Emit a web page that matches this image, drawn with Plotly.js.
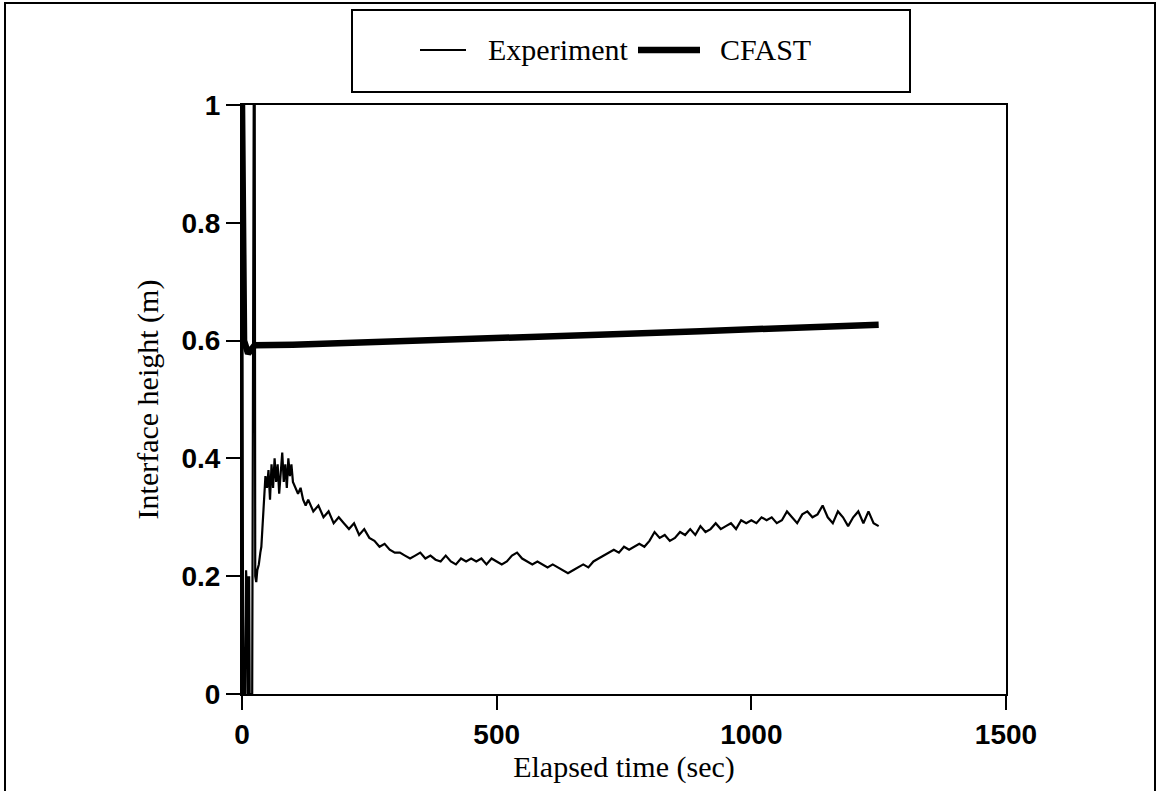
<!DOCTYPE html>
<html>
<head>
<meta charset="utf-8">
<script src="https://cdn.plot.ly/plotly-3.0.1.min.js"></script>
<style>html,body{margin:0;padding:0;background:#fff;}#chart{width:1159px;height:791px;}</style>
</head>
<body>
<div id="chart"></div>
<script>
// Experiment (thin line): elapsed time (s) and interface height (m)
var expTime = [0, 1, 2, 3, 5, 6, 8, 9, 10, 11, 13, 14, 15, 17, 20, 23, 25, 26, 28, 30, 33, 36, 38, 40, 43, 46, 49, 52, 55, 58, 61, 64, 67, 70, 73, 76, 79, 82, 85, 88, 91, 94, 97, 100, 105, 110, 115, 120, 125, 130, 140, 150, 160, 170, 180, 190, 200, 210, 220, 230, 240, 250, 260, 270, 280, 290, 300, 310, 320, 330, 340, 350, 360, 370, 380, 390, 400, 410, 420, 430, 440, 450, 460, 470, 480, 490, 500, 510, 520, 530, 540, 550, 560, 570, 580, 590, 600, 610, 620, 630, 640, 650, 660, 670, 680, 690, 700, 710, 720, 730, 740, 750, 760, 770, 780, 790, 800, 810, 820, 830, 840, 850, 860, 870, 880, 890, 900, 910, 920, 930, 940, 950, 960, 970, 980, 990, 1000, 1010, 1020, 1030, 1040, 1050, 1060, 1070, 1080, 1090, 1100, 1110, 1120, 1130, 1140, 1150, 1160, 1170, 1180, 1190, 1200, 1210, 1220, 1230, 1240, 1250];
var expHeight = [0.0, 0.6, 0.13, 0.0, 0.05, 0.0, 0.21, 0.19, 0.2, 0.0, 0.0, 0.2, 0.0, 0.0, 0.0, 1.0, 1.0, 0.2, 0.19, 0.21, 0.22, 0.24, 0.25, 0.28, 0.33, 0.37, 0.35, 0.38, 0.33, 0.39, 0.35, 0.40, 0.36, 0.39, 0.34, 0.37, 0.41, 0.36, 0.39, 0.35, 0.40, 0.37, 0.39, 0.36, 0.35, 0.34, 0.35, 0.33, 0.32, 0.33, 0.31, 0.32, 0.30, 0.31, 0.29, 0.30, 0.29, 0.28, 0.29, 0.27, 0.28, 0.265, 0.26, 0.25, 0.255, 0.245, 0.24, 0.24, 0.235, 0.23, 0.235, 0.24, 0.23, 0.235, 0.228, 0.225, 0.235, 0.225, 0.22, 0.23, 0.225, 0.23, 0.225, 0.23, 0.22, 0.23, 0.225, 0.22, 0.225, 0.235, 0.24, 0.23, 0.225, 0.22, 0.225, 0.22, 0.215, 0.22, 0.215, 0.21, 0.205, 0.21, 0.215, 0.22, 0.215, 0.225, 0.23, 0.235, 0.24, 0.245, 0.24, 0.25, 0.245, 0.25, 0.255, 0.25, 0.26, 0.275, 0.265, 0.27, 0.26, 0.265, 0.275, 0.27, 0.28, 0.27, 0.285, 0.275, 0.28, 0.29, 0.28, 0.285, 0.29, 0.28, 0.295, 0.29, 0.295, 0.29, 0.30, 0.295, 0.30, 0.29, 0.295, 0.31, 0.30, 0.29, 0.305, 0.31, 0.30, 0.305, 0.32, 0.30, 0.29, 0.31, 0.30, 0.285, 0.30, 0.31, 0.29, 0.31, 0.29, 0.285];

// CFAST (thick line)
var cfastTime = [0, 4, 12, 25, 100, 300, 500, 700, 900, 1100, 1250];
var cfastHeight = [1.0, 0.60, 0.578, 0.592, 0.593, 0.598, 0.604, 0.610, 0.616, 0.622, 0.627];

var seriesNames = ['Experiment', 'CFAST'];
var xTicks = [0, 500, 1000, 1500];
var yTicks = [0, 0.2, 0.4, 0.6, 0.8, 1];
var yTickText = ['0', '0.2', '0.4', '0.6', '0.8', '1'];

var serif = '"Liberation Serif", "Times New Roman", serif';
var sans = '"Liberation Sans", Arial, sans-serif';

var expWidth = 2.2, cfastWidth = 6.5;
var traces = [
  {x: expTime, y: expHeight, mode: 'lines', name: seriesNames[0],
   line: {color: '#000', width: expWidth}},
  {x: cfastTime, y: cfastHeight, mode: 'lines', name: seriesNames[1],
   line: {color: '#000', width: cfastWidth}}
];

// plot area: x 242..1006 px, y 105..694 px
var L = 242, R = 1006, T = 105, B = 694;
function px(v){ return (v - L) / (R - L); }
function py(v){ return (B - v) / (B - T); }

var legY = py(50);
var layout = {
  width: 1159, height: 791,
  margin: {l: L, r: 1159 - R, t: T, b: 791 - B},
  paper_bgcolor: '#fff', plot_bgcolor: '#fff',
  showlegend: false,
  xaxis: {range: [0, 1500], tickvals: xTicks, ticktext: xTicks.map(String),
          showline: true, linecolor: '#000', linewidth: 2, mirror: true,
          ticks: 'outside', ticklen: 14, tickwidth: 2, tickcolor: '#000',
          showgrid: false, zeroline: false,
          tickfont: {family: sans, size: 28, color: '#000', weight: 'bold'},
          title: {text: 'Elapsed time (sec)', font: {family: serif, size: 30, color: '#000'}, standoff: 4}},
  yaxis: {range: [0, 1], tickvals: yTicks, ticktext: yTickText,
          showline: true, linecolor: '#000', linewidth: 2, mirror: true,
          ticks: 'outside', ticklen: 14, tickwidth: 2, tickcolor: '#000',
          showgrid: false, zeroline: false,
          tickfont: {family: sans, size: 28, color: '#000', weight: 'bold'},
          title: {text: 'Interface height (m)', font: {family: serif, size: 30, color: '#000'}, standoff: 14}},
  shapes: [
    {type: 'rect', xref: 'paper', yref: 'paper', x0: px(5), x1: px(1155), y0: py(800), y1: py(3),
     line: {color: '#000', width: 2}, fillcolor: 'rgba(0,0,0,0)'},
    {type: 'rect', xref: 'paper', yref: 'paper', x0: px(352), x1: px(910), y0: py(92), y1: py(10),
     line: {color: '#000', width: 2}, fillcolor: 'rgba(0,0,0,0)'},
    {type: 'line', xref: 'paper', yref: 'paper', x0: px(420), x1: px(466), y0: legY, y1: legY,
     line: {color: '#000', width: expWidth}},
    {type: 'line', xref: 'paper', yref: 'paper', x0: px(638), x1: px(700), y0: legY, y1: legY,
     line: {color: '#000', width: cfastWidth}}
  ],
  annotations: [
    {xref: 'paper', yref: 'paper', x: px(486), y: legY, xanchor: 'left', yanchor: 'middle',
     text: seriesNames[0], showarrow: false, font: {family: serif, size: 30, color: '#000'}},
    {xref: 'paper', yref: 'paper', x: px(718), y: legY, xanchor: 'left', yanchor: 'middle',
     text: seriesNames[1], showarrow: false, font: {family: serif, size: 30, color: '#000'}}
  ]
};

Plotly.newPlot('chart', traces, layout, {displayModeBar: false, staticPlot: true});
</script>
</body>
</html>
